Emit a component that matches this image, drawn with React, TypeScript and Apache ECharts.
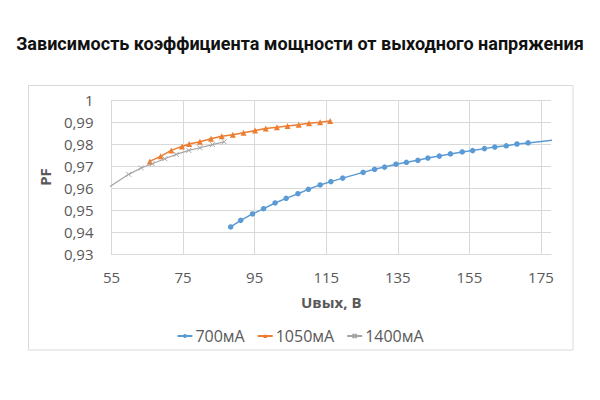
import React, { useEffect, useRef } from "react";
import * as echarts from "echarts";

const titleText = "Зависимость коэффициента мощности от выходного напряжения";
const seriesNames = ["700мА", "1050мА", "1400мА"];
const xAxisName = "Uвых, В";
const yAxisName = "PF";

const blueX = [88.3, 91.1, 94.4, 97.5, 100.7, 103.8, 107.1, 110.0, 113.3, 116.3, 119.6, 125.3, 128.5, 131.3, 134.5, 137.4, 140.6, 143.4, 146.6, 149.7, 153.0, 155.9, 159.2, 162.1, 165.3, 168.3, 171.4, 180.5];
const blueY = [0.9423, 0.9453, 0.9482, 0.9506, 0.9532, 0.9553, 0.9574, 0.9594, 0.9614, 0.9629, 0.9645, 0.9671, 0.9685, 0.9695, 0.9708, 0.9717, 0.9726, 0.9736, 0.9745, 0.9755, 0.9764, 0.977, 0.9779, 0.9786, 0.9792, 0.98, 0.9805, 0.9822];

const orangeX = [65.7, 68.7, 71.7, 74.7, 76.7, 79.7, 82.8, 85.8, 88.9, 91.9, 95.1, 98.1, 101.2, 104.2, 107.3, 110.2, 113.3, 116.1];
const orangeY = [0.9721, 0.9744, 0.9771, 0.9789, 0.98, 0.981, 0.9824, 0.9835, 0.9842, 0.9851, 0.9861, 0.987, 0.9876, 0.9882, 0.9888, 0.9894, 0.9899, 0.9905];

const greyX = [52.5, 59.8, 63.3, 66.4, 69.9, 73.1, 76.6, 79.7, 83.2, 86.5];
const greyY = [0.9585, 0.9662, 0.9691, 0.971, 0.9733, 0.9753, 0.9771, 0.9783, 0.9797, 0.981];

const xMin = 55;
const xMax = 177.8;
const xStep = 20;
const yMin = 0.93;
const yMax = 1;
const yStep = 0.01;

const zip = (xs: number[], ys: number[]) => xs.map((x, i) => [x, ys[i]]);

export default function App() {
  const ref = useRef<HTMLDivElement>(null);
  useEffect(() => {
    if (!ref.current) return;
    const chart = echarts.init(ref.current, null, { renderer: "svg", width: 600, height: 400 });
    const grid = "#d9d9d9";
    const labelColor = "#595959";
    const font = "Open Sans";
    chart.setOption({
      animation: false,
      backgroundColor: "#ffffff",
      title: {
        text: titleText,
        left: "center",
        top: 29,
        textStyle: { fontFamily: "Roboto", fontWeight: "bold", fontSize: 18, color: "#111111" },
      },
      graphic: [
        {
          type: "rect",
          z: -1,
          shape: { x: 28.5, y: 85.5, width: 544.5, height: 264.5 },
          style: { fill: "none", stroke: grid, lineWidth: 1 },
        },
      ],
      grid: { left: 111.5, top: 100, width: 439.5, height: 154 },
      legend: {
        data: seriesNames,
        left: "center",
        top: 323,
        itemWidth: 15,
        itemHeight: 5,
        itemGap: 12,
        textStyle: { fontFamily: font, fontSize: 16, color: labelColor, padding: [0, 0, 0, -2] },
      },
      xAxis: {
        type: "value",
        min: xMin,
        max: xMax,
        interval: xStep,
        name: xAxisName,
        nameLocation: "middle",
        nameGap: 40,
        nameTextStyle: { fontFamily: font, fontWeight: "bold", fontSize: 15, color: labelColor },
        axisLine: { show: true, lineStyle: { color: grid, width: 1 } },
        axisTick: { show: false },
        axisLabel: { color: labelColor, fontFamily: font, fontSize: 15, margin: 15, showMaxLabel: false },
        splitLine: { show: true, showMaxLine: false, lineStyle: { color: grid, width: 1 } },
      },
      yAxis: {
        type: "value",
        min: yMin,
        max: yMax,
        interval: yStep,
        name: yAxisName,
        nameLocation: "middle",
        nameGap: 56,
        nameRotate: 90,
        nameTextStyle: { fontFamily: font, fontWeight: "bold", fontSize: 15, color: labelColor },
        axisLine: { show: false },
        axisTick: { show: false },
        axisLabel: {
          color: labelColor,
          fontFamily: font,
          fontSize: 15,
          margin: 18,
          formatter: (v: number) => (Math.abs(v - 1) < 1e-9 ? "1" : v.toFixed(2).replace(".", ",")),
        },
        splitLine: { show: true, lineStyle: { color: grid, width: 1 } },
      },
      series: [
        {
          name: seriesNames[0],
          type: "line",
          data: zip(blueX, blueY),
          symbol: "circle",
          symbolSize: 5.5,
          clip: true,
          lineStyle: { color: "#5B9BD5", width: 1.5 },
          itemStyle: { color: "#5B9BD5" },
        },
        {
          name: seriesNames[1],
          type: "line",
          data: zip(orangeX, orangeY),
          symbol: "triangle",
          symbolSize: 6,
          clip: true,
          lineStyle: { color: "#ED7D31", width: 1.5 },
          itemStyle: { color: "#ED7D31" },
        },
        {
          name: seriesNames[2],
          type: "line",
          data: zip(greyX, greyY),
          symbol: "path://M0,0L10,10M10,0L0,10",
          symbolSize: 5,
          clip: true,
          lineStyle: { color: "#A5A5A5", width: 1.2 },
          itemStyle: { color: "#A5A5A5", borderColor: "#A5A5A5", borderWidth: 1 },
        },
      ],
    });
    return () => chart.dispose();
  }, []);
  return (
    <div
      ref={ref}
      style={{ position: "absolute", left: 0, top: 0, width: 600, height: 400, background: "#fff" }}
    />
  );
}
